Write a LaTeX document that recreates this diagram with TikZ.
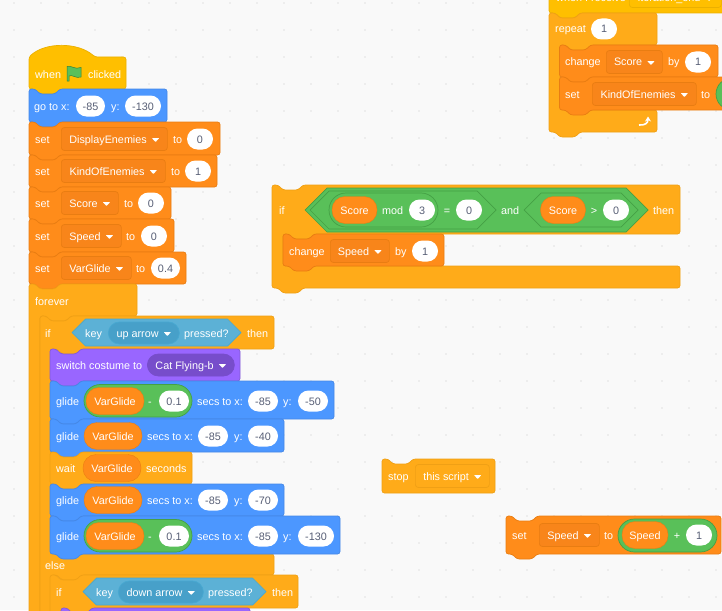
\documentclass[tikz,border=0pt]{standalone}
\usepackage{fontspec}
\setmainfont{Liberation Sans}
\usetikzlibrary{arrows.meta}
\definecolor{canvasColor}{HTML}{F9F9F9}
\definecolor{gridColor}{HTML}{E2E2E2}
\definecolor{hatFill}{HTML}{FFBF00}
\definecolor{hatLine}{HTML}{EBB000}
\definecolor{motionFill}{HTML}{4C97FF}
\definecolor{motionLine}{HTML}{4588E6}
\definecolor{varFill}{HTML}{FF8C1A}
\definecolor{varLine}{HTML}{E97D12}
\definecolor{varField}{HTML}{F8851A}
\definecolor{controlFill}{HTML}{FFAB19}
\definecolor{controlLine}{HTML}{F0A015}
\definecolor{looksFill}{HTML}{9966FF}
\definecolor{looksLine}{HTML}{855CD6}
\definecolor{looksField}{HTML}{774DCB}
\definecolor{senseFill}{HTML}{5CB1D6}
\definecolor{senseLine}{HTML}{47A8D1}
\definecolor{senseField}{HTML}{47A0C9}
\definecolor{opFill}{HTML}{59C059}
\definecolor{opLine}{HTML}{45A045}
\definecolor{pillText}{HTML}{575E75}
\tikzset{
    hatblock/.style={fill=hatFill, draw=hatLine, line width=0.7},
    moveblock/.style={fill=motionFill, draw=motionLine, line width=0.7},
    varblock/.style={fill=varFill, draw=varLine, line width=0.7},
    ctrlblock/.style={fill=controlFill, draw=controlLine, line width=0.7},
    lookblock/.style={fill=looksFill, draw=looksLine, line width=0.7},
    senseblock/.style={fill=senseFill, draw=senseLine, line width=0.7},
    opblock/.style={fill=opFill, draw=opLine, line width=0.7},
    lbl/.style={
        anchor=west,
        inner sep=0pt,
        text=white,
        font=\fontsize{10.8}{13}\selectfont,
        text height=9pt,
        text depth=1pt
    },
    clbl/.style={lbl, anchor=center},
    numpill/.style={
        clbl,
        fill=white,
        text=pillText,
        rounded corners=10.5pt,
        minimum height=21,
        minimum width=26
    },
    varpill/.style={
        clbl,
        fill=varFill,
        draw=varLine,
        rounded corners=13pt,
        minimum height=27,
        minimum width=58
    },
    dropfield/.style={
        lbl,
        fill=varField,
        draw=varLine,
        rounded corners=3pt,
        minimum height=23,
        line width=0.7
    },
    droppill/.style={
        lbl,
        rounded corners=11pt,
        minimum height=22,
        line width=0.7
    }
}
% white triangle of a dropdown
\newcommand{\dropmark}{\hspace{5pt}\tikz[x=1pt,y=1pt,baseline=-1pt]\fill[white, rounded corners=0.6pt] (0,4) -- (7.5,4) -- (3.75,0) -- cycle;}
% plain stack block
\newcommand{\stackblock}[5]{
    \draw[#1, rounded corners=2.5pt] (#2,#3) -- ({#2+6},#3) -- ({#2+11},{#3+5}) -- ({#2+26},{#3+5}) -- ({#2+31},#3)
        -- (#4,#3) -- (#4,#5) -- ({#2+31},#5) -- ({#2+26},{#5+5}) -- ({#2+11},{#5+5}) -- ({#2+6},#5) -- (#2,#5) -- cycle;
}
% C block: style, left, top, head right, head bottom, foot top, foot right, foot bottom
\newcommand{\cblock}[8]{
    \draw[#1, rounded corners=2.5pt] (#2,#3) -- ({#2+6},#3) -- ({#2+11},{#3+5}) -- ({#2+26},{#3+5}) -- ({#2+31},#3)
        -- (#4,#3) -- (#4,#5) -- ({#2+42},#5) -- ({#2+37},{#5+5}) -- ({#2+22},{#5+5}) -- ({#2+17},#5) -- ({#2+11},#5)
        -- ({#2+11},#6) -- (#7,#6) -- (#7,#8) -- ({#2+31},#8) -- ({#2+26},{#8+5}) -- ({#2+11},{#8+5}) -- ({#2+6},#8) -- (#2,#8) -- cycle;
}
% boolean slot: style, left, right, top, bottom
\newcommand{\hexshape}[5]{
    \draw[#1] (#2,{(#4+#5)/2}) -- ({#2+(#5-#4)/2},#4) -- ({#3-(#5-#4)/2},#4) -- (#3,{(#4+#5)/2})
        -- ({#3-(#5-#4)/2},#5) -- ({#2+(#5-#4)/2},#5) -- cycle;
}
% round reporter: style, left, right, top, bottom
\newcommand{\roundshape}[5]{
    \draw[#1, rounded corners={(#5-#4)/2*1pt-0.01pt}] (#2,#4) rectangle (#3,#5);
}
\begin{document}
\begin{tikzpicture}[x=1pt, y=-1pt]
    \useasboundingbox (0,0) rectangle (722,610);
    \clip (0,0) rectangle (722,610);
    \fill[canvasColor] (0,0) rectangle (722,610);
    \foreach \gx in {14,41,...,716}
        \foreach \gy in {3,30,...,610}
            \fill[gridColor] (\gx,\gy) circle (0.8);

    % main script
    \draw[hatblock, rounded corners=2.5pt] (29,57) .. controls (45,42) and (78,42) .. (95,57) -- (126,57) -- (126,89)
        -- (60,89) -- (55,94) -- (40,94) -- (35,89) -- (29,89) -- cycle;
    \node[lbl] (whenText) at (35,74) {when};
    \draw[fill=opFill, draw=opLine!80!black, line width=0.5] (67,66.5) .. controls (71,65) and (75,70) .. (81,67.5) -- (81,77) .. controls (76,79) and (72,74) .. (69,76) -- (69,81) -- (67,81) -- cycle;
    \node[lbl] (clickedText) at (88,74) {clicked};

    \stackblock{moveblock}{29}{89}{167}{122}
    \node[lbl] (gotoText) at (34,106) {go to x:};
    \node[numpill, minimum width=29] (gotoX) at (90.5,106) {-85};
    \node[lbl] (gotoY) at (111,106) {y:};
    \node[numpill, minimum width=36] (gotoYval) at (143,106) {-130};

    \stackblock{varblock}{29}{122}{220}{155}
    \node[lbl] (setA) at (35,139) {set};
    \node[dropfield, minimum width=106] (setAvar) at (61,139) {DisplayEnemies\dropmark};
    \node[lbl] (setAto) at (173,139) {to};
    \node[numpill] (setAval) at (200,139) {0};

    \stackblock{varblock}{29}{155}{217}{187}
    \node[lbl] (setB) at (35,171) {set};
    \node[dropfield, minimum width=104] (setBvar) at (61,171) {KindOfEnemies\dropmark};
    \node[lbl] (setBto) at (171,171) {to};
    \node[numpill] (setBval) at (198,171) {1};

    \stackblock{varblock}{29}{187}{171}{219}
    \node[lbl] (setC) at (35,203) {set};
    \node[dropfield, minimum width=57] (setCvar) at (61,203) {Score\dropmark};
    \node[lbl] (setCto) at (124,203) {to};
    \node[numpill] (setCval) at (151,203) {0};

    \stackblock{varblock}{29}{219}{174}{252}
    \node[lbl] (setD) at (35,236) {set};
    \node[dropfield, minimum width=60] (setDvar) at (61,236) {Speed\dropmark};
    \node[lbl] (setDto) at (126,236) {to};
    \node[numpill] (setDval) at (154,236) {0};

    \stackblock{varblock}{29}{252}{186}{284}
    \node[lbl] (setE) at (35,268) {set};
    \node[dropfield, minimum width=70] (setEvar) at (61,268) {VarGlide\dropmark};
    \node[lbl] (setEto) at (136,268) {to};
    \node[numpill, minimum width=29] (setEval) at (165.5,268) {0.4};

    % forever
    \cblock{ctrlblock}{29}{284}{137}{316}{700}{137}{720}
    \node[lbl] (foreverText) at (35,301) {forever};

    % if up arrow, its else goes on below the picture
    \draw[ctrlblock, rounded corners=2.5pt] (40,316) -- (46,316) -- (51,321) -- (66,321) -- (71,316) -- (274,316) -- (274,349)
        -- (82,349) -- (77,354) -- (62,354) -- (57,349) -- (51,349) -- (51,554) -- (274,554) -- (274,575)
        -- (82,575) -- (77,580) -- (62,580) -- (57,575) -- (51,575) -- (51,700) -- (40,700) -- cycle;
    \node[lbl] (ifA) at (45,333) {if};
    \hexshape{senseblock}{72}{241}{319}{346}
    \node[lbl] (keyA) at (85,333) {key};
    \node[droppill, fill=senseField, draw=senseLine, minimum width=71] (keyAvar) at (108,333) {up arrow\dropmark};
    \node[lbl] (keyAend) at (184,333) {pressed?};
    \node[lbl] (ifAthen) at (247,333) {then};

    \stackblock{lookblock}{50}{349}{240}{381}
    \node[lbl] (costumeText) at (56,365) {switch costume to};
    \node[droppill, fill=looksField, draw=looksField, minimum width=87] (costumeVar) at (147,365) {Cat Flying-b\dropmark};

    \stackblock{moveblock}{50}{381}{334}{419}
    \node[lbl] (glideA) at (56,401) {glide};
    \roundshape{opblock}{84}{192}{384.5}{417}
    \node[varpill] (glideAvar) at (115,401) {VarGlide};
    \node[clbl] (glideAminus) at (150,401) {-};
    \node[numpill, minimum width=30] (glideAsub) at (174,401) {0.1};
    \node[lbl] (glideAsecs) at (197,401) {secs to x:};
    \node[numpill, minimum width=30] (glideAx) at (263,401) {-85};
    \node[lbl] (glideAy) at (283,401) {y:};
    \node[numpill, minimum width=30] (glideAyval) at (313,401) {-50};

    \stackblock{moveblock}{50}{419}{284}{452}
    \node[lbl] (glideB) at (56,436) {glide};
    \node[varpill] (glideBvar) at (113,436) {VarGlide};
    \node[lbl] (glideBsecs) at (147,436) {secs to x:};
    \node[numpill, minimum width=30] (glideBx) at (213,436) {-85};
    \node[lbl] (glideBy) at (234,436) {y:};
    \node[numpill, minimum width=30] (glideByval) at (263,436) {-40};

    \stackblock{ctrlblock}{50}{452}{192}{484}
    \node[lbl] (waitText) at (56,468) {wait};
    \node[varpill] (waitVar) at (112,468) {VarGlide};
    \node[lbl] (waitEnd) at (146,468) {seconds};

    \stackblock{moveblock}{50}{484}{284}{516}
    \node[lbl] (glideC) at (56,500) {glide};
    \node[varpill] (glideCvar) at (113,500) {VarGlide};
    \node[lbl] (glideCsecs) at (147,500) {secs to x:};
    \node[numpill, minimum width=30] (glideCx) at (213,500) {-85};
    \node[lbl] (glideCy) at (234,500) {y:};
    \node[numpill, minimum width=30] (glideCyval) at (263,500) {-70};

    \stackblock{moveblock}{50}{516}{340}{554}
    \node[lbl] (glideD) at (56,536) {glide};
    \roundshape{opblock}{84}{192}{519.5}{552}
    \node[varpill] (glideDvar) at (115,536) {VarGlide};
    \node[clbl] (glideDminus) at (150,536) {-};
    \node[numpill, minimum width=30] (glideDsub) at (174,536) {0.1};
    \node[lbl] (glideDsecs) at (197,536) {secs to x:};
    \node[numpill, minimum width=30] (glideDx) at (263,536) {-85};
    \node[lbl] (glideDy) at (283,536) {y:};
    \node[numpill, minimum width=36] (glideDyval) at (316,536) {-130};

    \node[lbl] (elseText) at (45,565) {else};

    % if down arrow
    \cblock{ctrlblock}{50}{575}{298}{608}{700}{298}{720}
    \node[lbl] (ifB) at (56,592) {if};
    \hexshape{senseblock}{83}{266}{578}{605}
    \node[lbl] (keyB) at (96,592) {key};
    \node[droppill, fill=senseField, draw=senseLine, minimum width=85] (keyBvar) at (118,592) {down arrow\dropmark};
    \node[lbl] (keyBend) at (208,592) {pressed?};
    \node[lbl] (ifBthen) at (272,592) {then};
    \stackblock{lookblock}{61}{608}{250}{640}

    % top right script
    \draw[hatblock, rounded corners=2.5pt] (549,-20) -- (740,-20) -- (740,13) -- (580,13) -- (575,18) -- (560,18) -- (555,13) -- (549,13) -- cycle;
    \node[lbl] (receiveText) at (556,-2) {when I receive};
    \node[dropfield, fill=hatFill, draw=hatLine, minimum width=92, minimum height=19] (receiveVar) at (629,-2) {iteration\_end\dropmark};
    \cblock{ctrlblock}{549}{13}{657}{45}{110}{657}{132}
    \node[lbl] (repeatText) at (555,29) {repeat};
    \node[numpill] (repeatVal) at (604,29) {1};
    \stackblock{varblock}{559.5}{45}{718}{77}
    \node[lbl] (changeA) at (565,62) {change};
    \node[dropfield, minimum width=56] (changeAvar) at (606,62) {Score\dropmark};
    \node[lbl] (changeAby) at (668,62) {by};
    \node[numpill] (changeAval) at (698,62) {1};
    \stackblock{varblock}{559.5}{77}{740}{110}
    \node[lbl] (setF) at (565,94) {set};
    \node[dropfield, minimum width=104] (setFvar) at (592,94) {KindOfEnemies\dropmark};
    \node[lbl] (setFto) at (701,94) {to};
    \roundshape{opblock}{716}{780}{78}{110}
    \draw[white, line width=1.6, -{Stealth[length=5pt,width=6pt]}] (639,125) .. controls (645,125.5) and (648,123) .. (648,116.5);

    % score test
    \cblock{ctrlblock}{272}{185}{680}{234}{266}{680}{288}
    \node[lbl] (ifC) at (279,210) {if};
    \hexshape{opblock}{305}{648}{188}{232}
    \hexshape{opblock}{310}{496}{191}{229}
    \roundshape{opblock}{329}{438}{193}{227}
    \node[varpill, minimum width=45] (modVar) at (354.5,210) {Score};
    \node[lbl] (modText) at (382,210) {mod};
    \node[numpill] (modVal) at (422,210) {3};
    \node[clbl] (eqText) at (447,210) {=};
    \node[numpill] (eqVal) at (469,210) {0};
    \node[lbl] (andText) at (501,210) {and};
    \hexshape{opblock}{524}{638}{193}{227}
    \node[varpill, minimum width=45] (gtVar) at (563,210) {Score};
    \node[clbl] (gtText) at (594,210) {>};
    \node[numpill] (gtVal) at (616,210) {0};
    \node[lbl] (ifCthen) at (653,210) {then};

    \stackblock{varblock}{283}{234}{444}{266}
    \node[lbl] (changeB) at (289,251) {change};
    \node[dropfield, minimum width=59] (changeBvar) at (330,251) {Speed\dropmark};
    \node[lbl] (changeBby) at (395,251) {by};
    \node[numpill] (changeBval) at (425,251) {1};

    % stop
    \draw[ctrlblock, rounded corners=2.5pt] (382,459) -- (388,459) -- (393,464) -- (408,464) -- (413,459) -- (495,459) -- (495,493) -- (382,493) -- cycle;
    \node[lbl] (stopText) at (388,476) {stop};
    \node[dropfield, fill=controlFill, draw=controlLine, minimum width=74] (stopVar) at (415,476) {this script\dropmark};

    % set speed
    \stackblock{varblock}{506}{516}{721}{554}
    \node[lbl] (setG) at (512,535) {set};
    \node[dropfield, minimum width=60] (setGvar) at (539,535) {Speed\dropmark};
    \node[lbl] (setGto) at (604,535) {to};
    \roundshape{opblock}{618}{717}{519}{552}
    \node[varpill, minimum width=46] (plusVar) at (645,535) {Speed};
    \node[clbl] (plusText) at (677,535) {+};
    \node[numpill] (plusVal) at (699,535) {1};
\end{tikzpicture}
\end{document}
